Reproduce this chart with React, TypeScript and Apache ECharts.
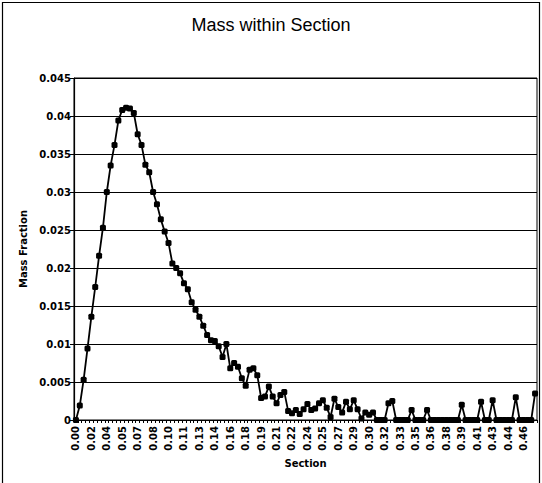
import React, { useEffect, useRef } from "react";
import * as echarts from "echarts";

// Tick labels shown on the Section axis (every 4th category)
const sectionLabels = [
  "0.00", "0.02", "0.04", "0.05", "0.07", "0.08", "0.10", "0.11", "0.13", "0.14",
  "0.16", "0.18", "0.19", "0.21", "0.22", "0.24", "0.25", "0.27", "0.29", "0.30",
  "0.32", "0.33", "0.35", "0.36", "0.38", "0.39", "0.41", "0.43", "0.44", "0.46",
];

// Mass fraction per section (120 sections)
const massPeak = [
  0, 0.0019, 0.0053, 0.0094, 0.0136, 0.0175, 0.0216, 0.0253, 0.03, 0.0335,
  0.0362, 0.0394, 0.0408, 0.0411, 0.041, 0.0404, 0.0376, 0.0362, 0.0336, 0.0326,
  0.03, 0.0284, 0.0264, 0.0248, 0.0233, 0.0206, 0.02, 0.0193, 0.018, 0.0172,
  0.0155, 0.0145, 0.0136, 0.0124, 0.0112, 0.0105, 0.0104, 0.0097, 0.0083, 0.01,
];
const massMid = [
  0.0068, 0.0075, 0.007, 0.0055, 0.0045, 0.0066, 0.0068, 0.0059, 0.0029, 0.0031,
  0.0044, 0.0031, 0.0022, 0.0033, 0.0037, 0.0012, 0.0009, 0.0013, 0.0008, 0.0014,
  0.0021, 0.0013, 0.0015, 0.0022, 0.0026, 0.0016, 0.0004, 0.0028, 0.0017, 0.001,
  0.0024, 0.0014, 0.0026, 0.0014, 0.0002, 0.001, 0.0007, 0.001, 0, 0,
];
const massTail = [
  0, 0.0022, 0.0025, 0, 0, 0, 0, 0.0013, 0, 0,
  0, 0.0013, 0, 0, 0, 0, 0, 0, 0, 0,
  0.002, 0, 0, 0, 0, 0.0024, 0, 0, 0.0026, 0,
  0, 0, 0, 0, 0.003, 0, 0, 0, 0, 0.0035,
];

const massFraction = [...massPeak, ...massMid, ...massTail];

const categories = massFraction.map((_, k) =>
  k % 4 === 0 ? sectionLabels[k / 4] : `${sectionLabels[Math.floor(k / 4)]}-${k % 4}`
);

const AXIS_FONT = "DejaVu Sans";

export default function App() {
  const ref = useRef<HTMLDivElement>(null);

  useEffect(() => {
    if (!ref.current) return;
    const chart = echarts.init(ref.current, undefined, { renderer: "svg" });
    chart.setOption({
      animation: false,
      backgroundColor: "#ffffff",
      title: {
        text: "Mass within Section",
        left: "center",
        top: 11,
        textStyle: {
          fontFamily: "Liberation Sans",
          fontSize: 18,
          fontWeight: "normal",
          color: "#000",
        },
      },
      graphic: [
        {
          type: "rect",
          shape: { x: 2.5, y: 2.5, width: 537, height: 520 },
          style: { fill: "none", stroke: "#000", lineWidth: 1.2 },
          silent: true,
        },
      ],
      grid: {
        left: 74,
        top: 78,
        width: 463,
        height: 342,
        show: true,
        borderColor: "#000",
        borderWidth: 1,
        backgroundColor: "transparent",
      },
      xAxis: {
        type: "category",
        data: categories,
        boundaryGap: true,
        name: "Section",
        nameLocation: "middle",
        nameGap: 37,
        nameTextStyle: {
          fontFamily: AXIS_FONT,
          fontSize: 10,
          fontWeight: "bold",
          color: "#000",
        },
        axisLine: { show: true, lineStyle: { color: "#000", width: 1.2 } },
        axisTick: {
          show: true,
          interval: 0,
          length: 3,
          lineStyle: { color: "#000", width: 1 },
        },
        axisLabel: {
          interval: 3,
          rotate: 90,
          margin: 6,
          fontFamily: AXIS_FONT,
          fontSize: 10,
          fontWeight: "bold",
          color: "#000",
          formatter: (v: string) => v,
        },
        splitLine: { show: false },
      },
      yAxis: {
        type: "value",
        min: 0,
        max: 0.045,
        interval: 0.005,
        name: "Mass Fraction",
        nameLocation: "middle",
        nameRotate: 90,
        nameGap: 41,
        nameTextStyle: {
          fontFamily: AXIS_FONT,
          fontSize: 10,
          fontWeight: "bold",
          color: "#000",
        },
        axisLine: { show: true, lineStyle: { color: "#000", width: 1.2 } },
        axisTick: { show: true, length: 4, lineStyle: { color: "#000", width: 1 } },
        axisLabel: {
          margin: 3,
          fontFamily: AXIS_FONT,
          fontSize: 10,
          fontWeight: "bold",
          color: "#000",
          formatter: (v: number) => (v === 0 ? "0" : String(+v.toFixed(3))),
        },
        splitLine: { show: true, lineStyle: { color: "#000", width: 1 } },
      },
      series: [
        {
          type: "line",
          data: massFraction,
          showAllSymbol: true,
          symbol: "roundRect",
          symbolSize: 6,
          itemStyle: { color: "#000" },
          lineStyle: { color: "#000", width: 1.8 },
          clip: false,
        },
      ],
    });
    return () => chart.dispose();
  }, []);

  return (
    <div
      ref={ref}
      style={{ position: "fixed", left: 0, top: 0, width: 542, height: 483, background: "#fff" }}
    />
  );
}
